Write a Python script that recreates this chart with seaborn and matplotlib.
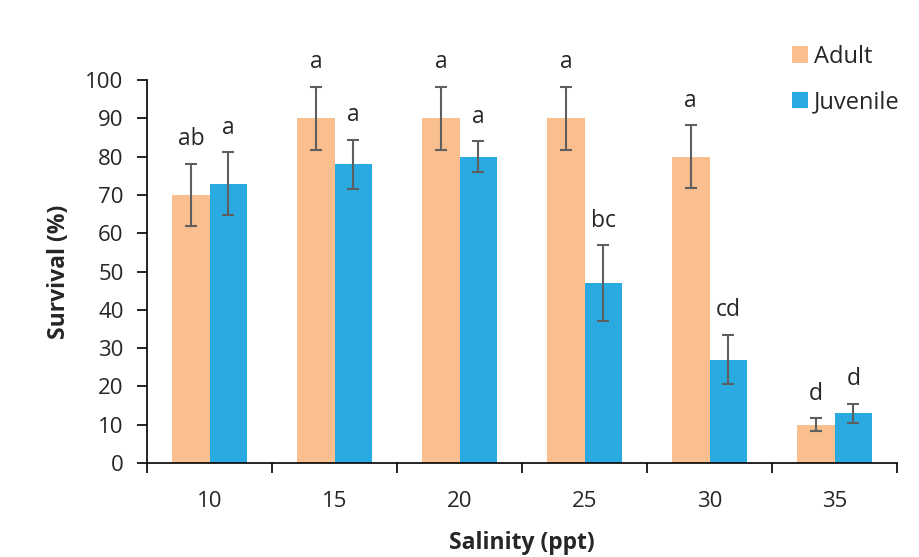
import numpy as np
import pandas as pd
import matplotlib
matplotlib.use("Agg")
import matplotlib.pyplot as plt
import seaborn as sns

# data
salinity = ["10", "15", "20", "25", "30", "35"]
adult = [70, 90, 90, 90, 80, 10]
juvenile = [73, 78, 80, 47, 27, 13]
adult_err = [8.2, 8.3, 8.3, 8.3, 8.2, 1.6]
juvenile_err = [8.2, 6.4, 4.0, 9.9, 6.5, 2.5]
adult_letters = ["ab", "a", "a", "a", "a", "d"]
juvenile_letters = ["a", "a", "a", "bc", "cd", "d"]
groups = ["Adult", "Juvenile"]

df = pd.DataFrame({
    "Salinity": salinity * 2,
    "Survival": adult + juvenile,
    "Stage": [groups[0]] * len(salinity) + [groups[1]] * len(salinity),
})

sns.set_style("white")
plt.rcParams["font.family"] = ["Open Sans", "DejaVu Sans"]

fig, ax = plt.subplots(figsize=(9.2, 5.57), dpi=100)
fig.subplots_adjust(left=0.16, right=0.975, top=0.856, bottom=0.169)

palette = {"Adult": "#F9BF8F", "Juvenile": "#29ABE2"}
sns.barplot(data=df, x="Salinity", y="Survival", hue="Stage", order=salinity,
            hue_order=groups, palette=palette, width=0.6, errorbar=None,
            saturation=1, linewidth=0, ax=ax)

# error bars + significance letters, placed on the drawn bars
errs = [adult_err, juvenile_err]
letters = [adult_letters, juvenile_letters]
bar_containers = list(ax.containers)
for k, container in enumerate(bar_containers):
    for i, bar in enumerate(container):
        xc = bar.get_x() + bar.get_width() / 2
        h = bar.get_height()
        e = errs[k][i]
        ax.errorbar(xc, h, yerr=e, fmt="none", ecolor="#5f5f5f",
                    elinewidth=1.5, capsize=4, capthick=1.5)
        ax.annotate(letters[k][i], (xc, h + e), xytext=(0, 9),
                    textcoords="offset points", ha="center", va="bottom",
                    fontsize=16.5)

ax.set_ylim(0, 100)
ax.set_xlim(-0.5, len(salinity) - 0.5)
ax.set_yticks(np.arange(0, 101, 10))
ax.set_xticks(np.arange(-0.5, len(salinity), 1), minor=True)
ax.tick_params(axis="x", which="major", length=0, labelsize=16, pad=20)
ax.tick_params(axis="x", which="minor", length=7, width=1.2, direction="out",
               color="black", bottom=True)
ax.tick_params(axis="y", length=7, width=1.2, direction="out", color="black",
               left=True, labelsize=16, pad=10)

for s in ["top", "right"]:
    ax.spines[s].set_visible(False)
for s in ["left", "bottom"]:
    ax.spines[s].set_color("black")
    ax.spines[s].set_linewidth(1.2)

ax.set_xlabel("Salinity (ppt)", fontsize=16.5, fontweight="bold", labelpad=14)
ax.set_ylabel("Survival (%)", fontsize=16.5, fontweight="bold", labelpad=10)

ax.legend(loc="upper left", bbox_to_anchor=(0.856, 0.928),
          bbox_transform=fig.transFigure, frameon=False, fontsize=17,
          handlelength=0.68, handleheight=0.68, labelspacing=0.9,
          handletextpad=0.25, borderpad=0.2, borderaxespad=0)

fig.savefig("out.png", dpi=100)
